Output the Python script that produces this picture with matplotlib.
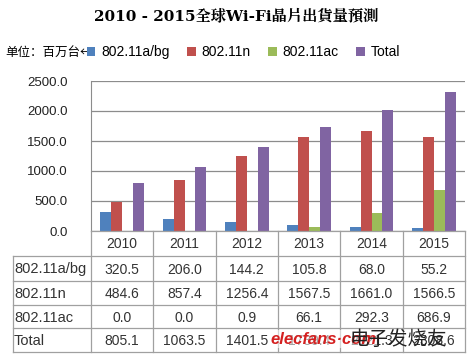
import matplotlib
matplotlib.use('Agg')
import matplotlib.pyplot as plt
from matplotlib.patches import Patch
import numpy as np

plt.rcParams['font.family'] = ['Liberation Sans', 'Noto Sans CJK SC']

# Dane
years = ['2010', '2011', '2012', '2013', '2014', '2015']
series_names = ['802.11a/bg', '802.11n', '802.11ac', 'Total']
abg = [320.5, 206.0, 144.2, 105.8, 68.0, 55.2]
n = [484.6, 857.4, 1256.4, 1567.5, 1661.0, 1566.5]
ac = [0.0, 0.0, 0.9, 66.1, 292.3, 686.9]
total = [805.1, 1063.5, 1401.5, 1739.4, 2021.3, 2308.6]
colors = ['#4F81BD', '#C0504D', '#9BBB59', '#8064A2']

W, H = 473, 356
fig = plt.figure(figsize=(W / 100, H / 100), dpi=100)


def fx(px):
    return px / W


def fy(py):
    return 1 - py / H


# Wykres
left, right, top, bottom = 91, 465, 81, 231
ax = fig.add_axes([fx(left), fy(bottom), fx(right - left), fy(top) - fy(bottom)])
x = np.arange(len(years))
w = 0.175
for i, vals in enumerate([abg, n, ac, total]):
    ax.bar(x + (i - 1.5) * w, vals, width=w, color=colors[i], zorder=3)
ax.set_xlim(-0.5, len(years) - 0.5)
ax.set_ylim(0, 2500)
ax.set_yticks(np.arange(0, 2501, 500))
ax.set_yticklabels([f'{v:.1f}' for v in np.arange(0, 2501, 500)], fontsize=9.5, color='#222222')
ax.set_xticks([])
ax.tick_params(axis='y', length=0, pad=17)
ax.grid(axis='y', color='#8c8c8c', linewidth=0.9, zorder=0)
for s in ['top', 'right', 'bottom']:
    ax.spines[s].set_visible(False)
ax.spines['left'].set_color('#8c8c8c')

# Tabela
tab = fig.add_axes([0, 0, 1, 1], facecolor='none')
tab.set_xlim(0, W)
tab.set_ylim(H, 0)
tab.axis('off')
lc = '#a0a0a0'
col_w = (right - left) / len(years)
rows_y = [231, 256, 281, 305, 328, 352]
# linie poziome
tab.plot([left, right], [rows_y[0]] * 2, color=lc, lw=0.9)
for yy in rows_y[1:]:
    tab.plot([13, right], [yy, yy], color=lc, lw=0.9)
# linie pionowe
tab.plot([13, 13], [rows_y[1], rows_y[-1]], color=lc, lw=0.9)
for k in range(len(years) + 1):
    xx = left + k * col_w
    tab.plot([xx, xx], [rows_y[0], rows_y[-1]], color=lc, lw=0.9)

for k, yr in enumerate(years):
    tab.text(left + (k + 0.5) * col_w, (rows_y[0] + rows_y[1]) / 2 + 1, yr,
             ha='center', va='center', fontsize=10, color='#333333')
for r, (name, vals) in enumerate(zip(series_names, [abg, n, ac, total])):
    yc = (rows_y[r + 1] + rows_y[r + 2]) / 2 + 1
    tab.text(14, yc, name, ha='left', va='center', fontsize=10.5, color='#333333')
    for k, v in enumerate(vals):
        tab.text(left + (k + 0.5) * col_w, yc, f'{v:.1f}', ha='center', va='center',
                 fontsize=10, color='#333333')

# Tytuł
fig.text(0.5, fy(16), '2010 - 2015全球Wi-Fi晶片出貨量預測', ha='center', va='center',
         fontsize=11, fontweight='bold', family=['DejaVu Serif', 'Noto Serif CJK TC', 'Noto Sans CJK TC'])

# Legenda
fig.text(fx(5), fy(52), '单位：百万台←', ha='left', va='center', fontsize=9,
         family=['Noto Sans CJK SC', 'DejaVu Sans'])
handles = [Patch(facecolor=c) for c in colors]
fig.legend(handles, series_names, loc='center left', bbox_to_anchor=(fx(87), fy(52)),
           ncol=4, frameon=False, fontsize=10, handlelength=0.6, handleheight=0.6,
           handletextpad=0.4, columnspacing=1.3, borderaxespad=0, borderpad=0)

# Znak wodny
fig.text(fx(270), fy(339), 'elecfans·com', ha='left', va='center', fontsize=12,
         fontweight='bold', color='#d42020', style='italic',
         bbox=dict(facecolor='white', edgecolor='none', alpha=0.55, pad=1))
fig.text(fx(350), fy(339), '电子发烧友', ha='left', va='center', fontsize=14,
         color='#222222', family=['Noto Sans CJK SC'])

fig.savefig('out.png', dpi=100)
